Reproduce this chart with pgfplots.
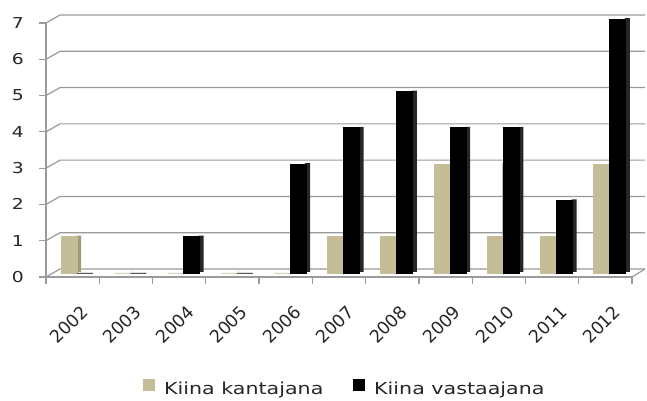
\documentclass[border=0pt]{standalone}
\usepackage{fontspec}
\setmainfont{DejaVu Sans}[FakeStretch=1.25]
\newfontfamily\xfont{DejaVu Sans}
\usepackage{pgfplots}
\pgfplotsset{compat=1.18}
\definecolor{tanf}{HTML}{C4BD97}
\definecolor{tans}{HTML}{A19B78}
\definecolor{blks}{HTML}{262626}
\definecolor{gridc}{HTML}{9A9A9A}
\begin{document}
\fontsize{15bp}{18bp}\selectfont
\begin{tikzpicture}
\begin{axis}[
  set layers,
  scale only axis, width=586bp, height=254bp,
  xmin=-0.5, xmax=10.5, ymin=0, ymax=7,
  clip=false,
  axis x line*=bottom, axis y line*=left,
  axis line style={gridc, line width=1.2bp},
  xtick={0,...,10},
  xticklabels={2002,2003,2004,2005,2006,2007,2008,2009,2010,2011,2012},
  major x tick style={draw=none},
  minor xtick={-0.5,0.5,...,10.5},
  ytick={0,...,7},
  tick align=outside,
  major tick length=7bp, minor tick length=7bp,
  tick style={gridc, line width=1.2bp},
  minor tick style={gridc, line width=1.2bp},
  /pgf/number format/assume math mode=true,
  yticklabel style={xshift=-10bp, text=black!85, font=\fontsize{15bp}{18bp}\selectfont},
  xticklabel style={rotate=45, anchor=north east, inner sep=1bp, xshift=-8bp, yshift=-18bp, text=black!85, font=\xfont\fontsize{17.5bp}{20bp}\selectfont},
  legend style={at={(0.51,-0.44)}, anchor=center, draw=none, fill=none,
    font=\fontsize{16.5bp}{19bp}\selectfont, text=black!85,
    /tikz/every odd column/.append style={column sep=7bp},
    /tikz/every even column/.append style={column sep=28bp}},
  legend columns=2,
]
\begin{pgfonlayer}{axis background}
\pgfplotsinvokeforeach{0,...,7}{
  \draw[gridc, line width=1.2bp] (axis cs:-0.5,#1) -- ++(14bp,8bp) -- ([xshift=13bp,yshift=8bp]axis cs:10.5,#1);
}
\draw[gridc, line width=1.2bp] (axis cs:10.5,0) -- ++(13bp,8bp);
\end{pgfonlayer}
% side faces
\addplot[ybar, forget plot, bar width=5bp, bar shift=6bp, fill=tans, draw=none, yshift=5bp] coordinates {
(0,1) (6,1) (7,1) (8,3) (9,1) (10,3) (1,0) (2,0) (3,0) (4,0) (5,0)};
\addplot[ybar, forget plot, bar width=5bp, bar shift=22bp, fill=blks, draw=none, yshift=5bp] coordinates {
(2,1) (4,3) (5,4) (6,5) (7,4) (8,4) (9,2) (10,7)};
% front faces
\addplot[ybar, bar width=16bp, bar shift=-3.5bp, fill=tanf, draw=tanf, line width=0.8bp, yshift=4bp,
  legend image code/.code={\fill[tanf] (0bp,-5bp) rectangle (11bp,6bp);}] coordinates {
(0,1) (1,0) (2,0) (3,0) (4,0) (5,1) (6,1) (7,3) (8,1) (9,1) (10,3)};
\addlegendentry{Kiina kantajana}
\addplot[ybar, bar width=16bp, bar shift=12.5bp, fill=black, draw=black, line width=0.8bp, yshift=4bp,
  legend image code/.code={\fill[black] (0bp,-5bp) rectangle (11bp,6bp);}] coordinates {
(0,0) (1,0) (2,1) (3,0) (4,3) (5,4) (6,5) (7,4) (8,4) (9,2) (10,7)};
\addlegendentry{Kiina vastaajana}
\end{axis}
\pgfresetboundingbox
\useasboundingbox (-46bp,-124bp) rectangle (601bp,277bp);
\end{tikzpicture}
\end{document}
